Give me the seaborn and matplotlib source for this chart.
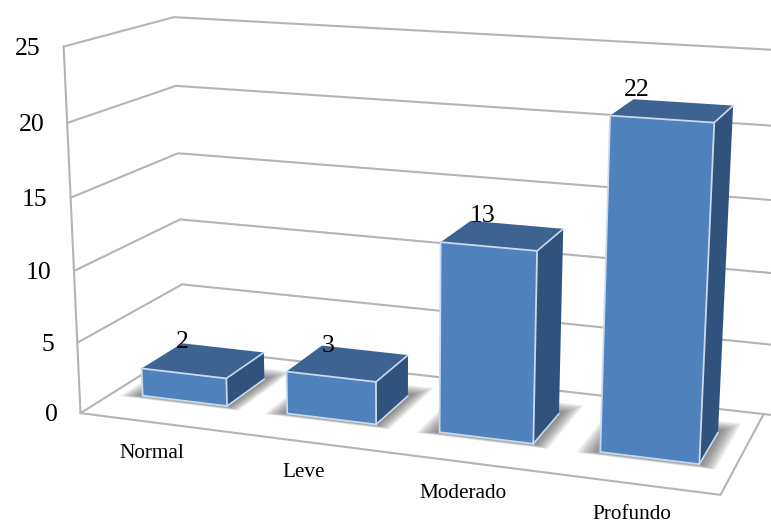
import numpy as np
import matplotlib
matplotlib.use("Agg")
import matplotlib.pyplot as plt
from matplotlib.patches import Polygon
from matplotlib.transforms import Affine2D, Transform
import seaborn as sns

categories = ["Normal", "Leve", "Moderado", "Profundo"]
values = [2, 3, 13, 22]
y_ticks = [0, 5, 10, 15, 20, 25]

W, H = 771, 524
front_color = "#4f81bd"
top_color = "#3c6391"
side_color = "#30537d"
grid_color = "#b4b4b4"
edge_color = "#c9daec"
bar_width = 0.59
z_front, z_back = 0.3, 0.7
label_dx = [41, 42, 42, 27]

# camera matrix, fitted by hand from the corners of the walls and bars
P = np.array([[141.15286, -0.80159, 124.12118, 80.50552],
              [7.49018, -14.75644, -25.97977, 413.12283],
              [-0.026157, -0.0020082, 0.1120004, 1.0]])


def project(x, v, z):
    h = P @ np.array([x, v, z, 1.0])
    return h[0] / h[2], h[1] / h[2]


class FrontPlane(Transform):
    # category/value coordinates of the barplot -> pixels on the bars' front plane
    input_dims = 2
    output_dims = 2
    is_affine = False
    has_inverse = False

    def transform_non_affine(self, values):
        out = [project(a + 0.5, b, z_front) for a, b in np.asarray(values)]
        out = np.array(out)
        out[:, 1] = H - out[:, 1]
        return out


sns.set_style("white")
plt.rcParams["font.family"] = ["Liberation Serif", "DejaVu Serif"]

fig, ax = plt.subplots(figsize=(W / 100, H / 100), dpi=100)
ax.set_position([0, 0, 1, 1])
px = Affine2D().scale(1, -1).translate(0, H)

sns.barplot(x=categories, y=values, color=front_color, saturation=1,
            width=bar_width, ax=ax, zorder=4)
ax.axis("off")


def poly(points, **kw):
    ax.add_patch(Polygon(points, closed=True, transform=px, clip_on=False, **kw))


def line(points, color=grid_color, lw=1.5, zorder=1):
    pts = np.array(points)
    ax.plot(pts[:, 0], pts[:, 1], color=color, lw=lw, transform=px,
            clip_on=False, zorder=zorder, solid_capstyle="round", scalex=False, scaley=False)


# walls and floor
for t in y_ticks:
    line([project(0, t, 0), project(0, t, 1), project(4.15, t, 1)])
line([project(0, 0, 0), project(0, 25, 0)])
line([project(0, 0, 0), project(4, 0, 0), project(4, 0, 1)])

# bars: the front comes from seaborn, the rest follows its rectangles
front = FrontPlane()
for i, bar in enumerate(ax.containers[0]):
    x0 = bar.get_x() + 0.5
    x1 = x0 + bar.get_width()
    v = bar.get_height()
    bar.set_transform(front)
    bar.set_clip_on(False)
    bar.set_edgecolor(edge_color)
    bar.set_linewidth(1.3)

    # soft shadow on the floor
    for e in np.linspace(0.13, 0.01, 10):
        poly([project(x0 - e, 0, z_front - e * 0.3), project(x1 + e * 0.8, 0, z_front - e * 0.3),
              project(x1 + e * 0.8, 0, z_back + e * 1.1), project(x0 - e, 0, z_back + e * 1.1)],
             facecolor="#444444", edgecolor="none", alpha=0.09, zorder=2)

    poly([project(x0, v, z_front), project(x1, v, z_front), project(x1, v, z_back), project(x0, v, z_back)],
         facecolor=top_color, edgecolor="none", zorder=3)
    poly([project(x1, 0, z_front), project(x1, v, z_front), project(x1, v, z_back), project(x1, 0, z_back)],
         facecolor=side_color, edgecolor="none", zorder=3)
    line([project(x1, v, z_front), project(x1, v, z_back)], color=edge_color, lw=1.2, zorder=5)
    line([project(x1, 0, z_front), project(x1, 0, z_back)], color=edge_color, lw=1.2, zorder=5)

    fx, fy = project(x0, v, z_front)
    ax.text(fx + label_dx[i], fy - 26, str(values[i]), transform=px, fontsize=18.5,
            ha="center", va="center", color="black", zorder=6)
    cx, cy = project(i + 0.5, 0, 0)
    ax.text(cx - 1, cy + 31, categories[i], transform=px, fontsize=15.3,
            ha="center", va="center", color="black", zorder=6)

for t in y_ticks:
    tx, ty = project(0, t, 0)
    ax.text(tx - 23, ty + 2, str(t), transform=px, fontsize=18.5,
            ha="right", va="center", color="black", zorder=6)

fig.savefig("out.png", dpi=100)
